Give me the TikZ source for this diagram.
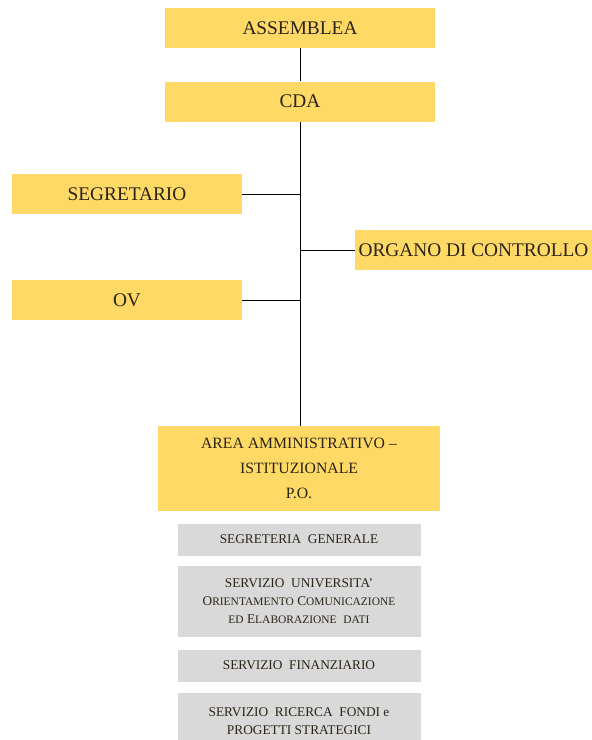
\documentclass[tikz,border=0pt]{standalone}
\usepackage{fontspec}
\setmainfont{Liberation Serif}
\usetikzlibrary{positioning}
\definecolor{orgyellow}{HTML}{FFD966}
\definecolor{orggrey}{HTML}{D9D9D9}
\definecolor{orgtext}{HTML}{2B2418}
\newcommand{\bodycolor}[0]{orgyellow}
\newcommand{\officecolor}[0]{orggrey}
% fake small caps for the lower letters
\newcommand{\fsc}[1]{{\fontsize{8.6}{13.5}\selectfont #1}}
\tikzset{
  govbox/.style={rectangle, fill=\bodycolor, text=orgtext, inner sep=0pt,
    minimum height=30pt, font=\fontsize{14.5}{17}\selectfont},
  officebox/.style={rectangle, fill=\officecolor, text=orgtext, inner sep=0pt,
    minimum width=182.25pt, align=center, font=\fontsize{10}{13.5}\selectfont},
  link/.style={draw=black, line width=0.65pt}
}

\begin{document}
\begin{tikzpicture}[x=0.75pt, y=-0.75pt]
    \useasboundingbox (0,0) rectangle (592,740);
    \node[govbox, minimum width=202.5pt] at (300,28)
        (assemblea) {ASSEMBLEA};
    \node[govbox, minimum width=202.5pt, below=24.75pt of assemblea]
        (cda) {CDA};
    \node[govbox, minimum width=172.5pt] at (127,194)
        (segretario) {SEGRETARIO};
    \node[govbox, minimum width=177.75pt] at (473.5,250)
        (controllo) {ORGANO DI CONTROLLO};
    \node[govbox, minimum width=172.5pt] at (127,300)
        (ov) {OV};
    \node[govbox, minimum width=211.5pt, minimum height=63.75pt, align=center,
        font=\fontsize{11.8}{18.75}\selectfont] at (299,468.5)
        (area) {AREA AMMINISTRATIVO --\\ISTITUZIONALE\\P.O.};
    \node[officebox, minimum height=24pt, below=9pt of area]
        (segreteria) {SEGRETERIA~~GENERALE};
    \node[officebox, minimum height=53.25pt, below=7.5pt of segreteria]
        (universita) {SERVIZIO~~UNIVERSITA'\\O\fsc{RIENTAMENTO} C\fsc{OMUNICAZIONE}\\\fsc{ED} E\fsc{LABORAZIONE}~~\fsc{DATI}};
    \node[officebox, minimum height=24pt, below=9pt of universita]
        (finanziario) {SERVIZIO~~FINANZIARIO};
    \node[officebox, minimum height=42pt, below=8.25pt of finanziario]
        (ricerca) {SERVIZIO~~RICERCA~~FONDI e\\PROGETTI STRATEGICI};
    \draw[link] (assemblea) -- (cda);
    \draw[link] (cda.south) -- (cda.south |- area.north);
    \draw[link] (segretario.east) -- (segretario.east -| cda.south);
    \draw[link] (controllo.west) -- (controllo.west -| cda.south);
    \draw[link] (ov.east) -- (ov.east -| cda.south);
\end{tikzpicture}
\end{document}
